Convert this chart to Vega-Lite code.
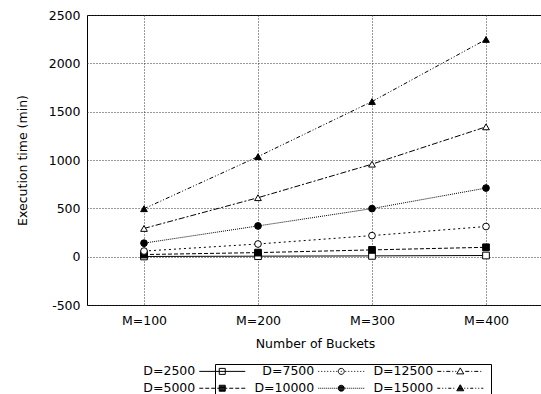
{
  "$schema": "https://vega.github.io/schema/vega-lite/v6.json",
  "width": 456,
  "height": 290,
  "autosize": "none",
  "padding": {"left": 87, "top": 15, "right": 0, "bottom": 89},
  "background": "white",
  "data": {
    "values": [
      {"M": "M=100", "D": "D=2500", "t": 2},
      {"M": "M=200", "D": "D=2500", "t": 5},
      {"M": "M=300", "D": "D=2500", "t": 8},
      {"M": "M=400", "D": "D=2500", "t": 12},
      {"M": "M=100", "D": "D=5000", "t": 22},
      {"M": "M=200", "D": "D=5000", "t": 42},
      {"M": "M=300", "D": "D=5000", "t": 70},
      {"M": "M=400", "D": "D=5000", "t": 97},
      {"M": "M=100", "D": "D=7500", "t": 58},
      {"M": "M=200", "D": "D=7500", "t": 131},
      {"M": "M=300", "D": "D=7500", "t": 218},
      {"M": "M=400", "D": "D=7500", "t": 312},
      {"M": "M=100", "D": "D=10000", "t": 140},
      {"M": "M=200", "D": "D=10000", "t": 318},
      {"M": "M=300", "D": "D=10000", "t": 497},
      {"M": "M=400", "D": "D=10000", "t": 710},
      {"M": "M=100", "D": "D=12500", "t": 292},
      {"M": "M=200", "D": "D=12500", "t": 610},
      {"M": "M=300", "D": "D=12500", "t": 957},
      {"M": "M=400", "D": "D=12500", "t": 1343},
      {"M": "M=100", "D": "D=15000", "t": 496},
      {"M": "M=200", "D": "D=15000", "t": 1035},
      {"M": "M=300", "D": "D=15000", "t": 1605},
      {"M": "M=400", "D": "D=15000", "t": 2247}
    ]
  },
  "config": {
    "font": "DejaVu Sans",
    "view": {"stroke": "#000", "strokeWidth": 1},
    "axis": {
      "labelFont": "DejaVu Sans",
      "labelFontSize": 12.5,
      "labelColor": "#000",
      "titleFont": "DejaVu Sans",
      "titleFontSize": 12.5,
      "titleFontWeight": "normal",
      "titleColor": "#000",
      "ticks": false,
      "domain": false,
      "grid": true,
      "gridColor": "#333",
      "gridDash": [1, 2],
      "gridWidth": 1
    },
    "legend": {
      "labelFont": "DejaVu Sans",
      "labelFontSize": 12.5,
      "labelColor": "#000",
      "titleFont": "DejaVu Sans"
    }
  },
  "layer": [
    {
      "mark": {"type": "line", "color": "#000", "strokeWidth": 1},
      "encoding": {
        "x": {"field": "M", "type": "nominal", "sort": null, "scale": {"type": "point", "padding": 0.5}, "axis": {"title": "Number of Buckets", "labelAngle": 0, "labelPadding": 9, "titlePadding": 11}},
        "y": {"field": "t", "type": "quantitative", "scale": {"domain": [-500, 2500], "nice": false, "zero": false}, "axis": {"title": "Execution time (min)", "labelExpr": "datum.value < 0 ? '-' + abs(datum.value) : '' + datum.value", "values": [-500, 0, 500, 1000, 1500, 2000, 2500], "labelPadding": 7, "titlePadding": 19}},
        "detail": {"field": "D"},
        "strokeDash": {
          "field": "D", "type": "nominal", "legend": null,
          "scale": {
            "domain": ["D=2500", "D=5000", "D=7500", "D=10000", "D=12500", "D=15000"],
            "range": [[1, 0], [4, 2], [2, 3], [1, 1], [6, 2, 2, 2], [4, 2, 1, 2, 1, 2]]
          }
        }
      }
    },
    {
      "mark": {"type": "point", "filled": true, "stroke": "#000", "strokeWidth": 1, "size": 45, "opacity": 1},
      "encoding": {
        "x": {"field": "M", "type": "nominal", "sort": null},
        "y": {"field": "t", "type": "quantitative"},
        "shape": {
          "field": "D", "type": "nominal", "legend": null,
          "scale": {
            "domain": ["D=2500", "D=5000", "D=7500", "D=10000", "D=12500", "D=15000"],
            "range": ["square", "square", "circle", "circle", "triangle-up", "triangle-up"]
          }
        },
        "fill": {
          "field": "D", "type": "nominal", "legend": null,
          "scale": {
            "domain": ["D=2500", "D=5000", "D=7500", "D=10000", "D=12500", "D=15000"],
            "range": ["#fff", "#000", "#fff", "#000", "#fff", "#000"]
          }
        }
      }
    },
    {
      "data": {"values": []},
      "mark": {"type": "point", "filled": false, "stroke": "#000", "strokeWidth": 1, "size": 4, "opacity": 1},
      "encoding": {
        "x": {"field": "M", "type": "nominal", "sort": null},
        "y": {"field": "t", "type": "quantitative"},
        "shape": {
          "field": "D", "type": "nominal",
          "scale": {
            "domain": ["D=2500", "D=7500", "D=12500", "D=5000", "D=10000", "D=15000"],
            "range": [
              "M-90,0M-23,0H23M-3,-3H3V3H-3ZM27,0",
              "M-90,0M-23,0H-22M-20,0H-19M-17,0H-16M-14,0H-13M-11,0H-10M-8,0H-7M-5,0H-4M4,0H5M7,0H8M10,0H11M13,0H14M16,0H17M19,0H20M22,0H23M3,0A3,3,0,1,1,-3,0A3,3,0,1,1,3,0ZM-0.5,0H0.5M27,0",
              "M-90,0M-23,0H-19M-17,0H-16M-14,0H-10M-8,0H-7M-5,0H-4M5,0H9M11,0H12M14,0H18M20,0H21M0,-3.5L3.5,2.5L-3.5,2.5ZM27,0",
              "M-90,0M-23,0H-19M-17,0H-13M-11,0H-7M-5,0H-3M3,0H5M7,0H11M13,0H17M19,0H23M-3,-3H3V3H-3ZM-3,-2.25H3M-3,-1.5H3M-3,-0.75H3M-3,0H3M-3,0.75H3M-3,1.5H3M-3,2.25H3M27,0",
              "M-90,0M-23,0H-22M-21,0H-20M-19,0H-18M-17,0H-16M-15,0H-14M-13,0H-12M-11,0H-10M-9,0H-8M-7,0H-6M-5,0H-4M4,0H5M6,0H7M8,0H9M10,0H11M12,0H13M14,0H15M16,0H17M18,0H19M20,0H21M22,0H23M3,0A3,3,0,1,1,-3,0A3,3,0,1,1,3,0ZM-1.98,-2.25H1.98M-2.6,-1.5H2.6M-2.9,-0.75H2.9M-3,0H3M-2.9,0.75H2.9M-2.6,1.5H2.6M-1.98,2.25H1.98M27,0",
              "M-90,0M-23,0H-20M-18,0H-17M-15,0H-14M-12,0H-9M-7,0H-6M4,0H5M7,0H8M10,0H13M15,0H16M18,0H19M21,0H23M0,-3.5L3.5,2.5L-3.5,2.5ZM-0.44,-2.75H0.44M-0.88,-2H0.88M-1.31,-1.25H1.31M-1.75,-0.5H1.75M-2.19,0.25H2.19M-2.63,1H2.63M-3.06,1.75H3.06M27,0"
            ]
          },
          "legend": {
            "title": null,
            "orient": "none",
            "legendX": 128,
            "legendY": 349,
            "columns": 3,
            "direction": "horizontal",
            "symbolSize": 4,
            "symbolStrokeColor": "#000",
            "symbolFillColor": "transparent",
            "symbolStrokeWidth": 1,
            "labelAlign": "right",
            "labelOffset": -33.25,
            "columnPadding": -3,
            "rowPadding": 4,
            "strokeColor": "#000",
            "padding": 1
          }
        }
      }
    }
  ],
  "resolve": {
    "scale": {"shape": "independent"},
    "legend": {"shape": "independent"}
  }
}
